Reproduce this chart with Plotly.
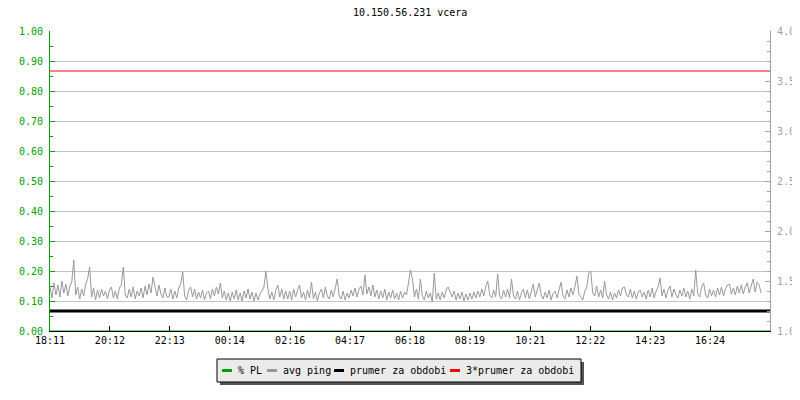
import plotly.graph_objects as go
import pandas as pd

TITLE = "10.150.56.231 vcera"
START = "2000-01-01 18:11"
SPAN_MIN = 1454
STEP_MIN = 4

tick_labels = ["18:11", "20:12", "22:13", "00:14", "02:16", "04:17",
               "06:18", "08:19", "10:21", "12:22", "14:23", "16:24"]

series_names = ["% PL", "avg ping", "prumer za obdobi", "3*prumer za obdobi"]

# avg ping [ms] (right axis)
ping_1 = [1.44, 1.33, 1.48, 1.36, 1.46, 1.34, 1.50, 1.38, 1.47, 1.35, 1.45, 1.49, 1.71, 1.36, 1.44,
          1.32, 1.42, 1.35, 1.47, 1.52, 1.64, 1.34, 1.43, 1.31, 1.41, 1.33, 1.42, 1.35, 1.40, 1.32,
          1.41, 1.44, 1.33, 1.40, 1.32, 1.43, 1.46, 1.64, 1.36, 1.33, 1.42, 1.34, 1.44, 1.32, 1.40,
          1.35, 1.43, 1.33, 1.45, 1.36, 1.47, 1.38, 1.54, 1.44, 1.35, 1.46, 1.37, 1.33, 1.43, 1.34]
ping_2 = [1.34, 1.42, 1.32, 1.40, 1.33, 1.43, 1.47, 1.59, 1.35, 1.31, 1.41, 1.44, 1.34, 1.42, 1.32,
          1.39, 1.33, 1.41, 1.31, 1.38, 1.40, 1.32, 1.42, 1.35, 1.44, 1.37, 1.48, 1.33, 1.40, 1.31,
          1.38, 1.30, 1.39, 1.32, 1.41, 1.31, 1.38, 1.30, 1.40, 1.33, 1.42, 1.32, 1.39, 1.30, 1.38,
          1.31, 1.37, 1.40, 1.44, 1.60, 1.42, 1.32, 1.39, 1.31, 1.41, 1.46, 1.34, 1.42, 1.32, 1.40]
ping_3 = [1.32, 1.40, 1.31, 1.42, 1.34, 1.41, 1.46, 1.33, 1.39, 1.31, 1.41, 1.33, 1.49, 1.32, 1.39,
          1.30, 1.38, 1.42, 1.33, 1.44, 1.35, 1.32, 1.41, 1.34, 1.43, 1.52, 1.35, 1.32, 1.40, 1.31,
          1.38, 1.33, 1.41, 1.35, 1.43, 1.34, 1.42, 1.45, 1.36, 1.56, 1.37, 1.44, 1.35, 1.46, 1.34,
          1.41, 1.32, 1.40, 1.33, 1.42, 1.31, 1.39, 1.33, 1.41, 1.32, 1.38, 1.31, 1.40, 1.33, 1.39]
ping_4 = [1.36, 1.47, 1.61, 1.52, 1.34, 1.42, 1.32, 1.52, 1.35, 1.31, 1.40, 1.33, 1.38, 1.29, 1.58,
          1.32, 1.38, 1.31, 1.39, 1.33, 1.41, 1.44, 1.38, 1.34, 1.40, 1.31, 1.38, 1.32, 1.39, 1.30,
          1.37, 1.31, 1.38, 1.32, 1.39, 1.33, 1.40, 1.34, 1.42, 1.35, 1.44, 1.50, 1.36, 1.33, 1.41,
          1.34, 1.57, 1.35, 1.32, 1.41, 1.34, 1.42, 1.33, 1.52, 1.35, 1.32, 1.40, 1.31, 1.38, 1.42]
ping_5 = [1.33, 1.41, 1.32, 1.39, 1.47, 1.34, 1.42, 1.48, 1.36, 1.32, 1.39, 1.33, 1.41, 1.31, 1.38,
          1.40, 1.33, 1.42, 1.49, 1.35, 1.32, 1.41, 1.34, 1.43, 1.36, 1.44, 1.55, 1.37, 1.34, 1.31,
          1.40, 1.44, 1.58, 1.60, 1.38, 1.35, 1.45, 1.34, 1.41, 1.33, 1.50, 1.36, 1.32, 1.39, 1.31,
          1.38, 1.33, 1.41, 1.35, 1.43, 1.44, 1.36, 1.34, 1.42, 1.33, 1.40, 1.32, 1.39, 1.41, 1.34]
ping_6 = [1.39, 1.32, 1.41, 1.34, 1.43, 1.33, 1.40, 1.44, 1.53, 1.35, 1.42, 1.33, 1.41, 1.45, 1.34,
          1.42, 1.36, 1.33, 1.41, 1.35, 1.43, 1.34, 1.40, 1.32, 1.42, 1.35, 1.61, 1.37, 1.34, 1.44,
          1.48, 1.36, 1.33, 1.42, 1.35, 1.41, 1.34, 1.43, 1.36, 1.44, 1.35, 1.42, 1.46, 1.47, 1.37,
          1.43, 1.36, 1.45, 1.38, 1.46, 1.37, 1.44, 1.48, 1.38, 1.45, 1.52, 1.39, 1.49, 1.46, 1.38]
avg_ping = ping_1 + ping_2 + ping_3 + ping_4 + ping_5 + ping_6

prumer = 1.2          # mean for the period [ms]
pl_value = 0.0        # packet loss, nothing lost

GREEN = "#00a000"
GRAY = "#999999"
RIGHT_GRAY = "#a0a0a0"
COLORS = [GREEN, GRAY, "black", "#ff0000"]
FONT = "DejaVu Sans Mono"

# page body has an 8px margin, so the figure is drawn 8px in from the window corner
OFF = 8
FIG_W, FIG_H = 800 - OFF, 400 - OFF
# plot area in window pixels (rrdtool-like layout)
L, R, T, B = 50, 770, 31, 331
W, H = R - L, B - T


def px_x(px):
    return (px - L) / W


def px_y(py):
    return (B - py) / H


start = pd.Timestamp(START)
end = start + pd.Timedelta(minutes=SPAN_MIN)
times = pd.date_range(start, periods=len(avg_ping), freq=f"{STEP_MIN}min")

tickvals = []
for lab in tick_labels:
    t = pd.Timestamp(f"2000-01-01 {lab}")
    if t < start:
        t += pd.Timedelta(days=1)
    tickvals.append(t)

fig = go.Figure()

fig.add_trace(go.Scatter(
    x=[start, end], y=[pl_value, pl_value], mode='lines', name=series_names[0],
    line=dict(color=GREEN, width=1), yaxis='y'
))
fig.add_trace(go.Scatter(
    x=times, y=avg_ping, mode='lines', name=series_names[1],
    line=dict(color=GRAY, width=1), yaxis='y2'
))
fig.add_trace(go.Scatter(
    x=[start, end], y=[prumer, prumer], mode='lines', name=series_names[2],
    line=dict(color='black', width=3), yaxis='y2'
))
fig.add_trace(go.Scatter(
    x=[start, end], y=[3 * prumer, 3 * prumer], mode='lines', name=series_names[3],
    line=dict(color='#ff0000', width=1), yaxis='y2'
))

# hand-made legend box with drop shadow, like rrdtool
shapes = []
annotations = []
box = (217, 359, 581, 382)
shapes.append(dict(type='rect', xref='paper', yref='paper', layer='above',
                   x0=px_x(box[0] + 3), x1=px_x(box[2] + 3), y0=px_y(box[1] + 3), y1=px_y(box[3] + 3),
                   fillcolor='#555555', line=dict(width=0)))
shapes.append(dict(type='rect', xref='paper', yref='paper', layer='above',
                   x0=px_x(box[0]), x1=px_x(box[2]), y0=px_y(box[1]), y1=px_y(box[3]),
                   fillcolor='#ebebeb', line=dict(color='black', width=1)))
item_x = [222, 267, 334, 450]
ly = 370.5
for name, color, x0 in zip(series_names, COLORS, item_x):
    shapes.append(dict(type='line', xref='paper', yref='paper', layer='above',
                       x0=px_x(x0), x1=px_x(x0 + 10), y0=px_y(ly), y1=px_y(ly),
                       line=dict(color=color, width=3)))
    annotations.append(dict(text=name, xref='paper', yref='paper', x=px_x(x0 + 14), y=px_y(ly),
                            xanchor='left', yanchor='middle', showarrow=False,
                            font=dict(family=FONT, size=10, color='black')))

annotations.append(dict(text=TITLE, xref='paper', yref='paper', x=0.5, y=px_y(13),
                        xanchor='center', yanchor='middle', showarrow=False,
                        font=dict(family=FONT, size=10, color='black')))

fig.update_layout(
    width=FIG_W, height=FIG_H,
    margin=dict(l=L - OFF, r=800 - R, t=T - OFF, b=400 - B),
    plot_bgcolor='white', paper_bgcolor='white',
    font=dict(family=FONT, size=10, color='black'),
    showlegend=False,
    shapes=shapes,
    annotations=annotations,
    xaxis=dict(
        range=[start, end], tickmode='array', tickvals=tickvals, ticktext=tick_labels,
        showgrid=False, zeroline=False, automargin=False,
        showline=True, linecolor='black', linewidth=1,
        ticks='inside', ticklen=5, tickcolor='black',
        tickfont=dict(family=FONT, size=10, color='black')
    ),
    yaxis=dict(
        range=[0, 1], dtick=0.1, tickformat='.2f', automargin=False,
        showgrid=True, gridcolor='#c4c4c4', gridwidth=1, zeroline=False,
        showline=True, linecolor=GREEN, linewidth=1,
        ticks='inside', ticklen=5, tickcolor=GREEN, ticklabelstandoff=4,
        minor=dict(dtick=0.05, ticks='inside', ticklen=3, tickcolor=GREEN, showgrid=False),
        tickfont=dict(family=FONT, size=10, color=GREEN)
    ),
    yaxis2=dict(
        range=[1, 4], dtick=0.5, tickformat='.1f', overlaying='y', side='right',
        showgrid=False, zeroline=False, automargin=False,
        showline=True, linecolor=RIGHT_GRAY, linewidth=1,
        ticks='inside', ticklen=5, tickcolor=RIGHT_GRAY, ticklabelstandoff=4,
        minor=dict(dtick=0.1, ticks='inside', ticklen=3, tickcolor=RIGHT_GRAY, showgrid=False),
        tickfont=dict(family=FONT, size=10, color=RIGHT_GRAY)
    ),
)

fig.write_html("out.html")
